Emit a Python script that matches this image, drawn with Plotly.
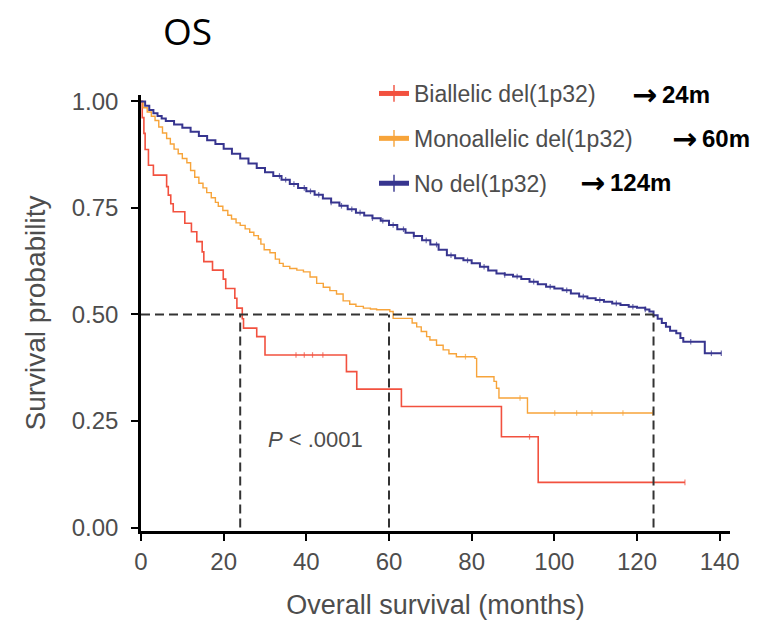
import plotly.graph_objects as go

# Kaplan-Meier step points: event time (months) and survival after the event
bi_time = [0, 0.3, 0.7, 1.0, 1.8, 3.0, 6.2, 6.6, 7.2, 7.8, 10.6, 12.2, 13.5, 14.8, 15.2,
           17.3, 19.9, 20.5, 22.7, 23.2, 24.5, 24.8, 28.0, 30.0, 49.7, 52.2, 63.0, 87.2, 96.1]
bi_surv = [1.0, 0.962, 0.925, 0.887, 0.850, 0.827, 0.800, 0.780, 0.760, 0.741, 0.714, 0.694,
           0.671, 0.647, 0.624, 0.604, 0.583, 0.561, 0.538, 0.515, 0.490, 0.468, 0.448, 0.405,
           0.366, 0.325, 0.284, 0.213, 0.106]
bi_cens = [37.5, 39.5, 41.5, 44.0, 94.0, 131.6]

mono_time = [0, 0.5, 1.5, 2.5, 3.4, 4.3, 5.2, 6.2, 7.1, 8.0, 9.0, 10.0, 11.1, 12.0, 13.0, 14.0,
             15.0, 15.9, 17.0, 18.0, 18.7, 19.8, 21.0, 21.9, 23.0, 24.0, 25.2, 26.3, 27.3, 28.4,
             29.0, 29.8, 31.2, 32.5, 33.5, 34.4, 36.0, 37.7, 39.3, 40.9, 42.5, 44.1, 45.7, 47.3,
             48.9, 50.5, 52.0, 53.8, 55.5, 57.0, 60.2, 61.0, 65.6, 66.7, 67.8, 69.1, 69.9, 71.5,
             73.1, 74.5, 76.3, 80.8, 81.2, 85.4, 86.0, 86.6, 93.5]
mono_surv = [1.0, 0.985, 0.975, 0.965, 0.955, 0.940, 0.926, 0.913, 0.900, 0.888, 0.877, 0.866,
             0.856, 0.838, 0.822, 0.808, 0.797, 0.786, 0.774, 0.763, 0.754, 0.744, 0.733, 0.724,
             0.715, 0.709, 0.701, 0.693, 0.685, 0.677, 0.665, 0.652, 0.645, 0.630, 0.620, 0.613,
             0.608, 0.604, 0.600, 0.588, 0.573, 0.564, 0.556, 0.548, 0.532, 0.524, 0.519, 0.515,
             0.513, 0.511, 0.507, 0.491, 0.480, 0.471, 0.460, 0.448, 0.440, 0.428, 0.417, 0.408,
             0.401, 0.397, 0.354, 0.343, 0.327, 0.304, 0.269]
mono_cens = [78.5, 91.7, 100.1, 105.4, 109.1, 116.6, 123.8]

no_time = [0, 1, 2, 3, 4, 5, 6, 8, 10, 12, 14, 16, 18, 20, 22, 24, 26, 28, 30, 32, 34, 36, 38,
           40, 42, 44, 46, 48, 50, 52, 54, 56, 58, 60, 62, 64, 66, 68, 70, 72, 74, 76, 78, 80,
           82, 84, 86, 88, 90, 92, 94, 96, 98, 100, 102, 104, 106, 108, 110, 112, 114, 116, 118,
           120, 122, 123, 124, 125, 126, 127, 128, 129.5, 130.5, 131.2, 136.4]
no_surv = [1.0, 0.990, 0.980, 0.972, 0.966, 0.960, 0.954, 0.946, 0.938, 0.929, 0.919, 0.909,
           0.900, 0.889, 0.877, 0.866, 0.854, 0.844, 0.834, 0.825, 0.816, 0.806, 0.797, 0.789,
           0.781, 0.772, 0.763, 0.755, 0.747, 0.739, 0.732, 0.726, 0.720, 0.710, 0.700, 0.692,
           0.684, 0.674, 0.664, 0.652, 0.639, 0.632, 0.627, 0.620, 0.612, 0.603, 0.596, 0.593,
           0.589, 0.583, 0.577, 0.571, 0.565, 0.561, 0.557, 0.549, 0.542, 0.538, 0.534, 0.530,
           0.526, 0.522, 0.518, 0.516, 0.512, 0.507, 0.498, 0.490, 0.480, 0.471, 0.462, 0.456,
           0.445, 0.436, 0.409]
no_cens = [33.5, 35.0, 37.0, 39.5, 41.0, 43.0, 46.0, 48.5, 51.0, 53.0, 56.0, 58.5, 61.0, 63.5,
           66.0, 69.0, 71.5, 75.0, 79.0, 83.0, 88.0, 91.0, 95.0, 99.0, 103.0, 107.0, 111.0,
           115.0, 119.0, 122.0, 133.0, 138.0, 140.4]

group_names = ["Biallelic del(1p32)", "Monoallelic del(1p32)", "No del(1p32)"]
group_colors = ["#f2513f", "#f7a43a", "#37358f"]
group_widths = [1.6, 1.4, 2.0]
medians = [24, 60, 124]

tick_vals_x = [0, 20, 40, 60, 80, 100, 120, 140]
tick_vals_y = [0.0, 0.25, 0.50, 0.75, 1.00]
tick_text_y = ["0.00", "0.25", "0.50", "0.75", "1.00"]

# plot-area geometry in pixels
M_L, M_R, M_T, M_B = 141, 37, 95, 97
W, H = 767, 628
PW, PH = W - M_L - M_R, H - M_T - M_B


def paper_x(px):
    return (px - M_L) / PW


def paper_y(py):
    return (H - M_B - py) / PH


def with_censoring(times, surv, cens):
    """Merge censoring times into the step series; returns x, y and marker sizes."""
    pts = [(t, s, 0) for t, s in zip(times, surv)]
    for c in cens:
        level = surv[0]
        for t, s in zip(times, surv):
            if t <= c:
                level = s
        pts.append((c, level, 4))
    pts.sort(key=lambda p: (p[0], -p[1]))
    return [p[0] for p in pts], [p[1] for p in pts], [p[2] for p in pts]


series = [(bi_time, bi_surv, bi_cens), (mono_time, mono_surv, mono_cens),
          (no_time, no_surv, no_cens)]

fig = go.Figure()

# median guide lines
for m in medians:
    fig.add_shape(type="line", x0=m, x1=m, y0=0, y1=0.5, xref="x", yref="y",
                  line=dict(color="#333333", width=2, dash="9px,5px"))
fig.add_shape(type="line", x0=0, x1=max(medians), y0=0.5, y1=0.5, xref="x", yref="y",
              line=dict(color="#333333", width=2, dash="9px,5px"))

for i, (t, s, c) in enumerate(series):
    x, y, sz = with_censoring(t, s, c)
    fig.add_trace(go.Scatter(
        x=x, y=y, mode="lines+markers", name=group_names[i],
        legendgroup=f"g{i}",
        line=dict(color=group_colors[i], width=group_widths[i], shape="hv"),
        marker=dict(symbol="line-ns", size=sz, color=group_colors[i],
                    line=dict(color=group_colors[i], width=1.2)),
        hoverinfo="skip",
    ))

label_font = "Liberation Sans, Arial, sans-serif"
grey = "#4d4d4d"

fig.update_layout(
    width=W, height=H,
    margin=dict(l=M_L, r=M_R, t=M_T, b=M_B),
    paper_bgcolor="white", plot_bgcolor="white",
    title=dict(text="OS", x=163 / W, xanchor="left", xref="container",
               y=1 - 32 / H, yanchor="middle", yref="container",
               font=dict(family="Open Sans, Liberation Sans, sans-serif", size=37, color="black")),
    showlegend=True,
    legend=dict(x=paper_x(374), y=paper_y(72), xanchor="left", yanchor="top",
                bgcolor="rgba(0,0,0,0)", borderwidth=0,
                font=dict(family="Liberation Sans, Arial, sans-serif", size=23, color=grey),
                itemsizing="constant", itemwidth=30, tracegroupgap=12,
                traceorder="grouped"),
    xaxis=dict(range=[0, 142.5], tickvals=tick_vals_x, showgrid=False, zeroline=False,
               showline=True, linecolor="black", linewidth=2.5,
               ticks="outside", ticklen=7, tickwidth=2, tickcolor="black",
               tickfont=dict(family=label_font, size=24, color=grey),
               title=dict(text="Overall survival (months)", standoff=22,
                          font=dict(family=label_font, size=27, color=grey))),
    yaxis=dict(range=[-0.008, 1.015], tickvals=tick_vals_y, ticktext=tick_text_y,
               showgrid=False, zeroline=False,
               showline=True, linecolor="black", linewidth=2.5,
               ticks="outside", ticklen=7, tickwidth=2, tickcolor="black",
               ticklabelstandoff=8,
               tickfont=dict(family=label_font, size=24, color=grey),
               title=dict(text="Survival probability", standoff=18,
                          font=dict(family=label_font, size=28, color=grey))),
)

# P-value note
fig.add_annotation(x=42.1, y=0.206, xref="x", yref="y", showarrow=False,
                   text="<i>P</i> &lt; .0001",
                   font=dict(family="Liberation Sans, Arial, sans-serif", size=22, color=grey))

# median survival callouts beside each legend row: heavy arrow, then the median
arrow_x = [630, 670, 578]
callout_y = [94, 138, 182]
for m, px, py in zip(medians, arrow_x, callout_y):
    fig.add_annotation(
        x=paper_x(px), y=paper_y(py), xref="paper", yref="paper",
        xanchor="left", yanchor="middle", showarrow=False,
        text="<b>→</b>",
        font=dict(family="DejaVu Sans, sans-serif", size=30, color="black"))
    fig.add_annotation(
        x=paper_x(px + 30), y=paper_y(py), xref="paper", yref="paper",
        xanchor="left", yanchor="middle", showarrow=False,
        text=f"<b>{m}m</b>",
        font=dict(family="Liberation Sans, Arial, sans-serif", size=24, color="black"))

fig.write_html("out.html")
